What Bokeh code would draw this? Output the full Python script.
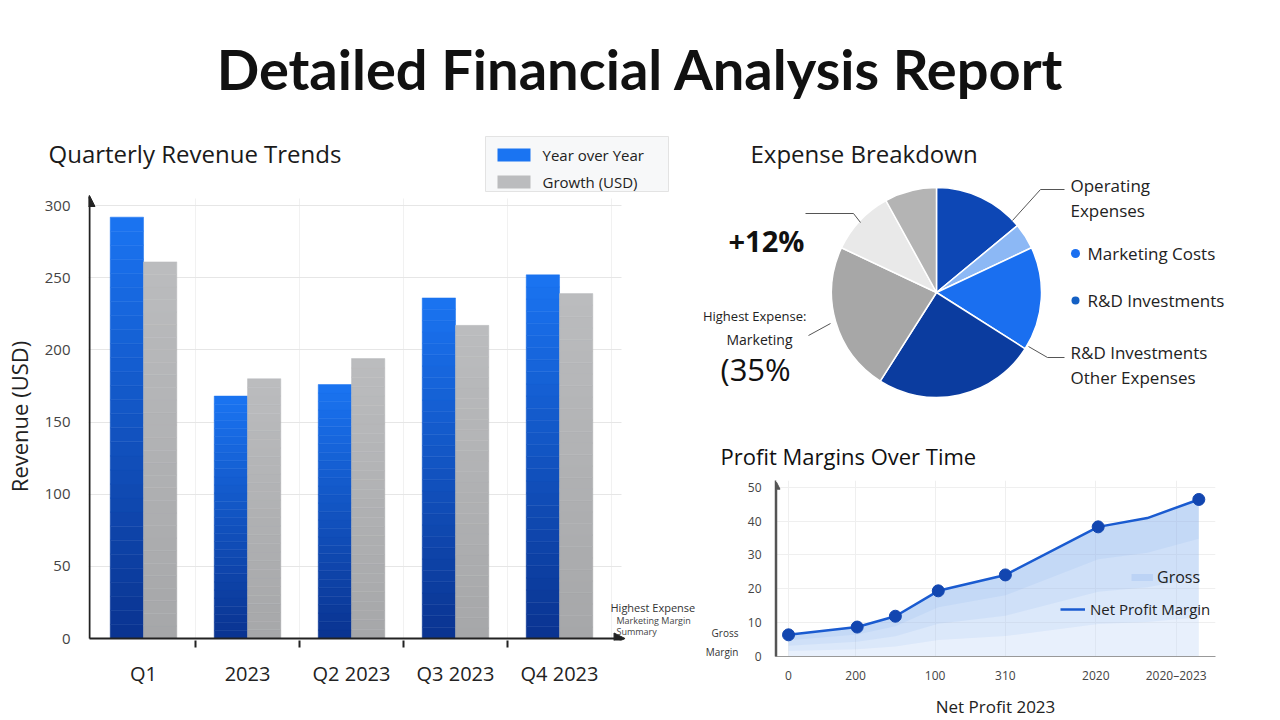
import math
from bokeh.plotting import figure
from bokeh.layouts import column, row
from bokeh.models import (Range1d, Label, Legend, LegendItem, Arrow, NormalHead,
                          FixedTicker, ColumnDataSource)
from bokeh.embed import file_html
from bokeh.resources import INLINE

# ---------------- data ----------------
quarters = ["Q1", "2023", "Q2 2023", "Q3 2023", "Q4 2023"]
yoy_revenue = [292, 168, 176, 236, 252]
growth_revenue = [261, 180, 194, 217, 239]
revenue_ticks = [0, 50, 100, 150, 200, 250, 300]
bar_series = ["Year over Year", "Growth (USD)"]

expense_names = ["Operating Expenses", "Operating (other)", "Marketing Costs",
                 "R&D Investments", "Other Expenses", "Admin", "Misc"]
expense_share = [14, 4, 16, 25, 23, 10, 8]
expense_colors = ["#0d47b5", "#8cb8f5", "#1a6ff0", "#0b3c9f", "#a7a7a7", "#e9e9e9", "#b4b4b4"]

margin_x = [0, 0.88, 1.37, 1.92, 2.78, 3.97, 4.6, 5.26]
margin_y = [6.4, 8.7, 11.9, 19.4, 24.1, 38.3, 40.9, 46.4]
margin_marker = [True, True, True, True, True, True, False, True]
margin_tick_pos = [0, 0.86, 1.88, 2.78, 3.94, 4.97]
margin_tick_labels = ["0", "200", "100", "310", "2020", "2020–2023"]
margin_y_ticks = [0, 10, 20, 30, 40, 50]

FONT = "Open Sans"
BLUE_TOP, BLUE_BOT = "#1a74f2", "#0a3390"
GRAY_TOP, GRAY_BOT = "#bbbcbe", "#a6a7a9"


def hex2rgb(h):
    h = h.lstrip("#")
    return tuple(int(h[i:i + 2], 16) for i in (0, 2, 4))


def lerp(c1, c2, t):
    a, b = hex2rgb(c1), hex2rgb(c2)
    return "#%02x%02x%02x" % tuple(int(round(a[i] + (b[i] - a[i]) * t)) for i in range(3))


def blank(p):
    p.axis.visible = False
    p.grid.visible = False
    p.outline_line_color = None


def fig(**kw):
    return figure(output_backend="svg", toolbar_location=None, frame_align=False, **kw)


# ---------------- title ----------------
pt = fig(width=1280, height=115, x_range=Range1d(0, 1280), y_range=Range1d(-115, 0), min_border=0)
blank(pt)
pt.add_layout(Label(x=640, y=-68, text="Detailed Financial Analysis Report", text_align="center",
                    text_baseline="middle", text_font="Lato", text_font_style="bold",
                    text_font_size="56px", text_color="#111111"))

# ---------------- bar chart header strip (subtitle + legend) ----------------
ps = fig(width=700, height=77, x_range=Range1d(0, 700), y_range=Range1d(-192, -115), min_border=0)
blank(ps)
ps.add_layout(Label(x=48, y=-153, text="Quarterly Revenue Trends", text_baseline="middle",
                    text_font=FONT, text_font_size="24px", text_color="#1a1a1a"))
ps.quad(left=[485], right=[668], top=[-136], bottom=[-191], fill_color="#f7f8f9",
        line_color="#e3e3e3", line_width=1)
ps.quad(left=[497, 497], right=[530, 530], top=[-148, -175], bottom=[-161, -188],
        fill_color=[BLUE_TOP, GRAY_TOP], line_color=None)
for yy, tx in zip([-154.5, -181.5], bar_series):
    ps.add_layout(Label(x=542, y=yy, text=tx, text_baseline="middle", text_font=FONT,
                        text_font_size="15px", text_color="#222222"))

# ---------------- bar chart ----------------
BX0 = -0.029          # data x at frame left
BU = 104.0            # px per x unit
YU = 72.15 / 50.0     # px per y unit
pb = fig(width=700, height=528,
         x_range=Range1d(BX0, BX0 + 612 / BU), y_range=Range1d(-2 / YU, -2 / YU + 448 / YU),
         min_border_left=88, min_border_right=0, min_border_top=0, min_border_bottom=80)
pb.outline_line_color = None

N = 30
bars = {"yoy": dict(left=[], right=[], bottom=[], top=[], color=[]),
        "gr": dict(left=[], right=[], bottom=[], top=[], color=[])}
bw = 0.32
for i, (vb, vg) in enumerate(zip(yoy_revenue, growth_revenue)):
    c = i + 0.5
    for j in range(N):
        t = (j + 0.5) / N
        d = bars["yoy"]
        d["left"].append(c - bw); d["right"].append(c)
        d["bottom"].append(vb * j / N); d["top"].append(vb * (j + 1) / N)
        d["color"].append(lerp(BLUE_BOT, BLUE_TOP, t))
        d = bars["gr"]
        d["left"].append(c); d["right"].append(c + bw)
        d["bottom"].append(vg * j / N); d["top"].append(vg * (j + 1) / N)
        d["color"].append(lerp(GRAY_BOT, GRAY_TOP, t))

pb.quad(left="left", right="right", bottom="bottom", top="top", fill_color="color",
        line_color="color", line_width=0.5, source=ColumnDataSource(bars["yoy"]))
pb.quad(left="left", right="right", bottom="bottom", top="top", fill_color="color",
        line_color="color", line_width=0.5, source=ColumnDataSource(bars["gr"]))

pb.xaxis.ticker = FixedTicker(ticks=[i + 0.5 for i in range(len(quarters))],
                              minor_ticks=[1, 2, 3, 4])
pb.xaxis.major_label_overrides = {i + 0.5: q for i, q in enumerate(quarters)}
pb.xaxis.major_tick_out = 0
pb.xaxis.major_tick_in = 0
pb.xaxis.minor_tick_out = 7
pb.xaxis.minor_tick_in = 0
pb.xaxis.minor_tick_line_color = "#222222"
pb.xaxis.minor_tick_line_width = 2
pb.xaxis.axis_line_color = None
pb.xaxis.major_label_text_font = FONT
pb.xaxis.major_label_text_font_size = "20px"
pb.xaxis.major_label_text_color = "#222222"
pb.xaxis.major_label_standoff = 12

pb.yaxis.ticker = FixedTicker(ticks=revenue_ticks)
pb.yaxis.major_tick_out = 0
pb.yaxis.major_tick_in = 0
pb.yaxis.minor_tick_out = 0
pb.yaxis.minor_tick_in = 0
pb.yaxis.axis_line_color = None
pb.yaxis.major_label_text_font = FONT
pb.yaxis.major_label_text_font_size = "15px"
pb.yaxis.major_label_text_color = "#444444"
pb.yaxis.major_label_standoff = 18
pb.yaxis.axis_label = "Revenue (USD)"
pb.yaxis.axis_label_text_font = FONT
pb.yaxis.axis_label_text_font_style = "normal"
pb.yaxis.axis_label_text_font_size = "22px"
pb.yaxis.axis_label_text_color = "#222222"
pb.yaxis.axis_label_standoff = 8

pb.ygrid.ticker = FixedTicker(ticks=revenue_ticks)
pb.ygrid.grid_line_color = "#e6e6e6"
pb.xgrid.ticker = FixedTicker(ticks=[1, 2, 3, 4, 5])
pb.xgrid.grid_line_color = "#f1f1f1"
try:
    pb.ygrid.cross_bounds = (BX0, 5.1)
    pb.xgrid.cross_bounds = (0, 305)
except Exception:
    pass

AX = BX0 + 1.0 / BU
pb.add_layout(Arrow(end=NormalHead(size=11, fill_color="#222222", line_color="#222222"),
                    x_start=AX, y_start=0, x_end=AX, y_end=307,
                    line_color="#222222", line_width=2))
pb.add_layout(Arrow(end=NormalHead(size=11, fill_color="#222222", line_color="#222222"),
                    x_start=AX, y_start=0, x_end=5.13, y_end=0,
                    line_color="#222222", line_width=2))


def bx(px):
    return BX0 + (px - 88) / BU


def by(py):
    return (638 - py) / YU


pb.add_layout(Label(x=bx(610), y=by(607), text="Highest Expense", text_baseline="middle",
                    text_font=FONT, text_font_size="11px", text_color="#333333"))
pb.add_layout(Label(x=bx(616), y=by(620), text="Marketing Margin", text_baseline="middle",
                    text_font=FONT, text_font_size="9px", text_color="#444444"))
pb.add_layout(Label(x=bx(616), y=by(631), text="Summary", text_baseline="middle",
                    text_font=FONT, text_font_size="9px", text_color="#444444"))

# ---------------- pie chart (page-pixel coordinates, y negated) ----------------
pp = fig(width=580, height=355, x_range=Range1d(700, 1280), y_range=Range1d(-470, -115), min_border=0)
blank(pp)

total = float(sum(expense_share))
cum = 0.0
starts, ends = [], []
for s in expense_share:
    starts.append(math.radians(90 - (cum + s) / total * 360))
    ends.append(math.radians(90 - cum / total * 360))
    cum += s
pp.wedge(x=936, y=-292, radius=105, start_angle=starts, end_angle=ends,
         fill_color=expense_colors, line_color="white", line_width=1.5)


def plabel(x, y, text, size="17px", align="left", style="normal", color="#222222"):
    pp.add_layout(Label(x=x, y=-y, text=text, text_align=align, text_baseline="middle",
                        text_font=FONT, text_font_size=size, text_font_style=style,
                        text_color=color))


plabel(750, 153, "Expense Breakdown", size="24px", color="#1a1a1a")
plabel(1070, 185, "Operating")
plabel(1070, 210, "Expenses")
plabel(1087, 253, "Marketing Costs")
plabel(1087, 300, "R&D Investments")
plabel(1070, 352, "R&D Investments")
plabel(1070, 377, "Other Expenses")
plabel(728, 240, "+12%", size="29px", style="bold", color="#111111")
plabel(806, 315, "Highest Expense:", size="13px", align="right")
plabel(792, 339, "Marketing", size="14px", align="right")
plabel(720, 368, "(35%", size="31px", color="#111111")
plabel(720, 455, "Profit Margins Over Time", size="22px", color="#111111")

pp.line([1012, 1040, 1064], [-220, -189, -189], line_color="#555555", line_width=1)
pp.line([1028, 1047, 1064], [-346, -357, -357], line_color="#555555", line_width=1)
pp.line([805, 853, 860], [-213, -213, -222], line_color="#555555", line_width=1)
pp.line([808, 830], [-335, -323], line_color="#555555", line_width=1)
pp.scatter([1075], [-253], size=9, fill_color="#1a6ff0", line_color=None)
pp.scatter([1075], [-300], size=8, fill_color="#1460c4", line_color=None)

# ---------------- small side strip ----------------
pm = fig(width=42, height=250, x_range=Range1d(700, 742), y_range=Range1d(-720, -470), min_border=0)
blank(pm)
for yy, tx in [(632, "Gross"), (651, "Margin")]:
    pm.add_layout(Label(x=738, y=-yy, text=tx, text_align="right", text_baseline="middle",
                        text_font=FONT, text_font_size="10px", text_color="#333333"))

# ---------------- line chart ----------------
pl = fig(width=538, height=250, x_range=Range1d(-0.167, 5.474), y_range=Range1d(0, 52),
         min_border_left=33, min_border_right=65, min_border_top=10, min_border_bottom=60)
pl.outline_line_color = None

pl.varea(x=margin_x, y1=[0] * len(margin_y), y2=margin_y, fill_color="#c6daf7", fill_alpha=0.4)
for k in [0.25, 0.5, 0.75]:
    pl.varea(x=margin_x, y1=[v * k for v in margin_y], y2=margin_y,
             fill_color="#3d7fe6", fill_alpha=0.07)
# one-point line: draws nothing on the plot, only gives the "Gross" key its swatch
gross_key = pl.line(x=margin_x[:1], y=margin_y[:1], line_color="#bcd3f5", line_width=7)
line_r = pl.line(margin_x, margin_y, line_color="#1a5bd0", line_width=2.5)
mx = [x for x, m in zip(margin_x, margin_marker) if m]
my = [y for y, m in zip(margin_y, margin_marker) if m]
pl.scatter(mx, my, size=12, fill_color="#1246b0", line_color="#1246b0")

pl.xaxis.ticker = FixedTicker(ticks=margin_tick_pos)
pl.xaxis.major_label_overrides = {p: t for p, t in zip(margin_tick_pos, margin_tick_labels)}
pl.yaxis.ticker = FixedTicker(ticks=margin_y_ticks)
for ax in (pl.xaxis, pl.yaxis):
    ax.major_tick_out = 0
    ax.major_tick_in = 0
    ax.minor_tick_out = 0
    ax.minor_tick_in = 0
    ax.major_label_text_font = FONT
    ax.major_label_text_font_size = "12px"
    ax.major_label_text_color = "#444444"
pl.xaxis.axis_line_color = "#999999"
pl.yaxis.axis_line_color = "#555555"
pl.yaxis.axis_line_width = 1.5
pl.xaxis.major_label_standoff = 10
pl.yaxis.major_label_standoff = 14
pl.xaxis.axis_label = "Net Profit 2023"
pl.xaxis.axis_label_text_font = FONT
pl.xaxis.axis_label_text_font_style = "normal"
pl.xaxis.axis_label_text_font_size = "17px"
pl.xaxis.axis_label_text_color = "#222222"
pl.xaxis.axis_label_standoff = 8
pl.xgrid.ticker = FixedTicker(ticks=margin_tick_pos)
pl.xgrid.grid_line_color = "#efefef"
pl.ygrid.ticker = FixedTicker(ticks=margin_y_ticks)
pl.ygrid.grid_line_color = "#efefef"

pl.add_layout(Arrow(end=NormalHead(size=7, fill_color="#555555", line_color="#555555"),
                    x_start=-0.167 + 1.0 / 78, y_start=0, x_end=-0.167 + 1.0 / 78, y_end=51.5,
                    line_color="#555555", line_width=1.5))

leg1 = Legend(items=[LegendItem(label="Gross", renderers=[gross_key])],
              location=(356, 68), margin=0, padding=0, glyph_width=22, glyph_height=10,
              label_standoff=4, label_text_font=FONT, label_text_font_size="16px",
              label_text_color="#222222", background_fill_alpha=0, border_line_color=None)
leg2 = Legend(items=[LegendItem(label="Net Profit Margin", renderers=[line_r])],
              location=(285, 37), margin=0, padding=0, glyph_width=25, glyph_height=12,
              label_standoff=5, label_text_font=FONT, label_text_font_size="15px",
              label_text_color="#222222", background_fill_alpha=0, border_line_color=None)
pl.add_layout(leg1)
pl.add_layout(leg2)

left = column(ps, pb)
right = column(pp, row(pm, pl))
layout = column(pt, row(left, right))
open("out.html", "w").write(file_html(layout, INLINE))
